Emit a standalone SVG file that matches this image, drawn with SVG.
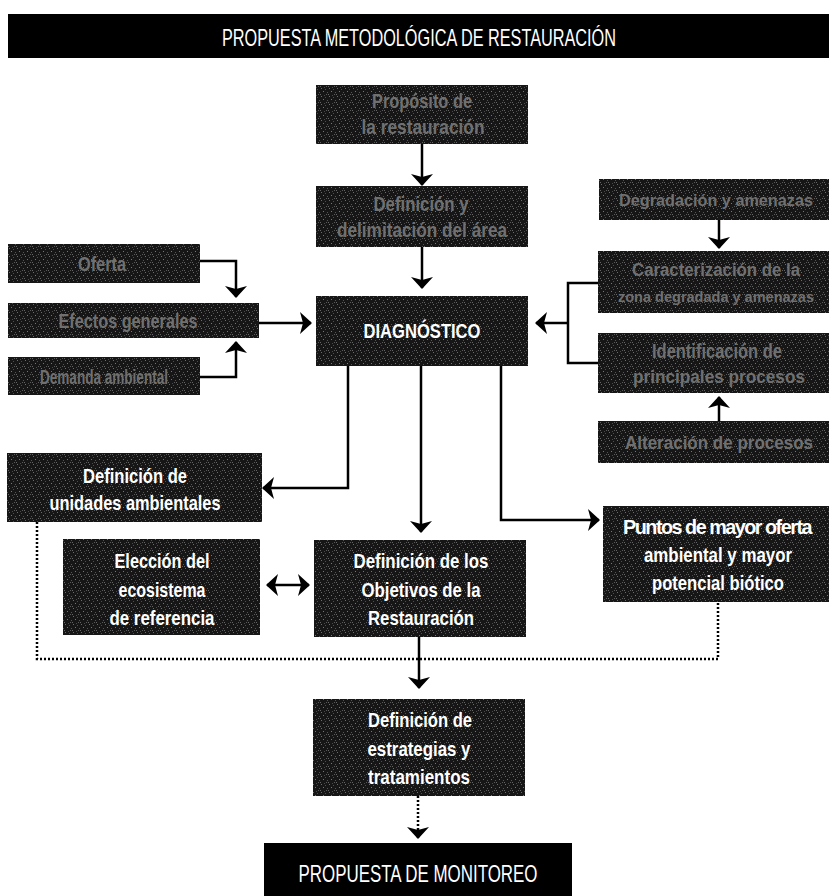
<svg xmlns="http://www.w3.org/2000/svg" width="829" height="896" viewBox="0 0 829 896">
<defs>
<pattern id="tex" width="8" height="8" patternUnits="userSpaceOnUse">
<rect width="8" height="8" fill="#161616"/>
<rect x="1" y="0" width="1" height="1" fill="#6c6c6c"/>
<rect x="5" y="1" width="1" height="1" fill="#4e4e4e"/>
<rect x="3" y="3" width="1" height="1" fill="#777"/>
<rect x="7" y="4" width="1" height="1" fill="#555"/>
<rect x="0" y="6" width="1" height="1" fill="#666"/>
<rect x="4" y="7" width="1" height="1" fill="#4a4a4a"/>
<rect x="6" y="6" width="1" height="1" fill="#5a5a5a"/>
</pattern>
<marker id="ah" viewBox="0 0 12 22" refX="11" refY="11" markerWidth="12" markerHeight="22" markerUnits="userSpaceOnUse" orient="auto-start-reverse">
<path d="M0,0 L12,11 L0,22 L3,11 z" fill="#000"/>
</marker>
<style>
.box{fill:url(#tex);}
.solid{fill:#000;}
.t{font-family:"Liberation Sans",Arial,sans-serif;font-size:21px;font-weight:bold;fill:#fff;text-anchor:middle;}
.g{font-family:"Liberation Sans",Arial,sans-serif;font-size:21px;font-weight:bold;fill:#707070;text-anchor:middle;}
.h{font-family:"Liberation Sans",Arial,sans-serif;font-size:24px;font-weight:normal;fill:#fff;text-anchor:middle;}
.ln{fill:none;stroke:#000;stroke-width:2.5;}
.dot{fill:none;stroke:#000;stroke-width:2.5;stroke-dasharray:2 2;}
</style>
</defs>
<rect width="829" height="896" fill="#fff"/>

<g id="header">
<rect class="solid" x="8" y="14" width="821" height="44"/>
<text class="h" x="419" y="46" textLength="394" lengthAdjust="spacingAndGlyphs">PROPUESTA METODOLÓGICA DE RESTAURACIÓN</text>
</g>

<g id="proposito">
<rect class="box" x="316" y="85" width="212" height="59"/>
<text class="g" x="422" y="108" textLength="100" lengthAdjust="spacingAndGlyphs">Propósito de</text>
<text class="g" x="423" y="134" textLength="123" lengthAdjust="spacingAndGlyphs">la restauración</text>
</g>

<g id="delimitacion">
<rect class="box" x="316" y="186" width="212" height="61"/>
<text class="g" x="421" y="211" textLength="95" lengthAdjust="spacingAndGlyphs">Definición y</text>
<text class="g" x="422" y="237" textLength="170" lengthAdjust="spacingAndGlyphs">delimitación del área</text>
</g>

<g id="diagnostico">
<rect class="box" x="316" y="296" width="212" height="70"/>
<text class="t" x="422" y="338" textLength="117" lengthAdjust="spacingAndGlyphs">DIAGNÓSTICO</text>
</g>

<g id="oferta">
<rect class="box" x="8" y="244" width="192" height="39"/>
<text class="g" x="102" y="271" textLength="48" lengthAdjust="spacingAndGlyphs">Oferta</text>
</g>

<g id="efectos">
<rect class="box" x="8" y="303" width="251" height="35"/>
<text class="g" x="128" y="328" textLength="139" lengthAdjust="spacingAndGlyphs">Efectos generales</text>
</g>

<g id="demanda">
<rect class="box" x="8" y="357" width="192" height="38"/>
<text class="g" x="104" y="384" textLength="128" lengthAdjust="spacingAndGlyphs">Demanda ambiental</text>
</g>

<g id="degradacion">
<rect class="box" x="599" y="179" width="230" height="41"/>
<text class="g" x="716" y="206" style="font-size:17px" textLength="194" lengthAdjust="spacingAndGlyphs">Degradación y amenazas</text>
</g>

<g id="caracterizacion">
<rect class="box" x="598" y="251" width="231" height="62"/>
<text class="g" x="716" y="276" style="font-size:18px" textLength="168" lengthAdjust="spacingAndGlyphs">Caracterización de la</text>
<text class="g" x="716" y="302" style="font-size:15px" textLength="196" lengthAdjust="spacingAndGlyphs">zona degradada y amenazas</text>
</g>

<g id="identificacion">
<rect class="box" x="598" y="333" width="231" height="60"/>
<text class="g" x="717" y="358" textLength="130" lengthAdjust="spacingAndGlyphs">Identificación de</text>
<text class="g" x="719" y="383" style="font-size:18px" textLength="172" lengthAdjust="spacingAndGlyphs">principales procesos</text>
</g>

<g id="alteracion">
<rect class="box" x="598" y="421" width="231" height="42"/>
<text class="g" x="719" y="449" style="font-size:18px" textLength="188" lengthAdjust="spacingAndGlyphs">Alteración de procesos</text>
</g>

<g id="unidades">
<rect class="box" x="7" y="453" width="255" height="69"/>
<text class="t" x="135" y="483" textLength="104" lengthAdjust="spacingAndGlyphs">Definición de</text>
<text class="t" x="135" y="510" textLength="171" lengthAdjust="spacingAndGlyphs">unidades ambientales</text>
</g>

<g id="eleccion">
<rect class="box" x="63" y="539" width="197" height="96"/>
<text class="t" x="162" y="568" textLength="95" lengthAdjust="spacingAndGlyphs">Elección del</text>
<text class="t" x="162" y="597" textLength="87" lengthAdjust="spacingAndGlyphs">ecosistema</text>
<text class="t" x="162" y="625" textLength="105" lengthAdjust="spacingAndGlyphs">de referencia</text>
</g>

<g id="objetivos">
<rect class="box" x="314" y="540" width="212" height="97"/>
<text class="t" x="421" y="568" textLength="135" lengthAdjust="spacingAndGlyphs">Definición de los</text>
<text class="t" x="421" y="597" textLength="119" lengthAdjust="spacingAndGlyphs">Objetivos de la</text>
<text class="t" x="421" y="625" textLength="106" lengthAdjust="spacingAndGlyphs">Restauración</text>
</g>

<g id="puntos">
<rect class="box" x="603" y="506" width="226" height="96"/>
<text class="t" x="717" y="534" style="letter-spacing:-1.6px" textLength="188" lengthAdjust="spacingAndGlyphs">Puntos de mayor oferta</text>
<text class="t" x="718" y="562" textLength="148" lengthAdjust="spacingAndGlyphs">ambiental y mayor</text>
<text class="t" x="718" y="590" textLength="132" lengthAdjust="spacingAndGlyphs">potencial biótico</text>
</g>

<g id="estrategias">
<rect class="box" x="313" y="699" width="212" height="97"/>
<text class="t" x="420" y="727" textLength="104" lengthAdjust="spacingAndGlyphs">Definición de</text>
<text class="t" x="419" y="756" textLength="103" lengthAdjust="spacingAndGlyphs">estrategias y</text>
<text class="t" x="419" y="784" textLength="102" lengthAdjust="spacingAndGlyphs">tratamientos</text>
</g>

<g id="monitoreo">
<rect class="solid" x="264" y="843" width="308" height="53"/>
<text class="h" x="418" y="882" textLength="239" lengthAdjust="spacingAndGlyphs">PROPUESTA DE MONITOREO</text>
</g>

<g id="connectors">
<path class="ln" d="M422,144 V185" marker-end="url(#ah)"/>
<path class="ln" d="M422,247 V288" marker-end="url(#ah)"/>
<path class="ln" d="M200,261 H236 V297" marker-end="url(#ah)"/>
<path class="ln" d="M200,377 H236 V342" marker-end="url(#ah)"/>
<path class="ln" d="M259,323 H311" marker-end="url(#ah)"/>
<path class="ln" d="M598,283 H568 V363 H598"/>
<path class="ln" d="M568,323 H536" marker-end="url(#ah)"/>
<path class="ln" d="M719,220 V248" marker-end="url(#ah)"/>
<path class="ln" d="M719,421 V397" marker-end="url(#ah)"/>
<path class="ln" d="M348,366 V488 H263" marker-end="url(#ah)"/>
<path class="ln" d="M421,366 V532" marker-end="url(#ah)"/>
<path class="ln" d="M501,366 V520 H599" marker-end="url(#ah)"/>
<path class="ln" d="M267,585 H309" marker-start="url(#ah)" marker-end="url(#ah)"/>
<path class="ln" d="M419,637 V688" marker-end="url(#ah)"/>
<path class="dot" d="M37,522 V659 H718 V602"/>
<path class="dot" d="M418,796 V838" marker-end="url(#ah)"/>
</g>
</svg>
